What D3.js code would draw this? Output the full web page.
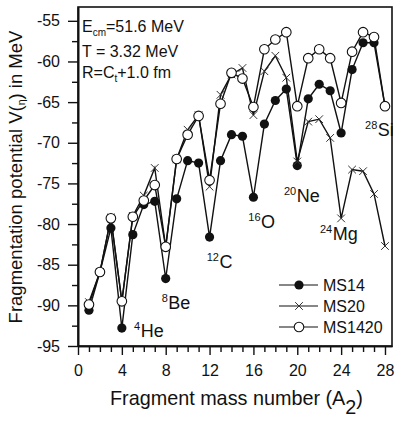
<!DOCTYPE html>
<html><head><meta charset="utf-8">
<script src="https://cdn.jsdelivr.net/npm/d3@7"></script>
<style>
html,body{margin:0;padding:0;background:#fff;}
text{font-family:"Liberation Sans",Arial,sans-serif;fill:#111;}
</style></head>
<body><svg id="c" width="395" height="423"></svg>
<script>
const massNumbers = [1,2,3,4,5,6,7,8,9,10,11,12,13,14,15,16,17,18,19,20,21,22,23,24,25,26,27,28];
const ms14   = [-90.6,-85.9,-80.5,-92.8,-81.3,-77.6,-77.2,-86.7,-76.9,-72.2,-72.5,-81.6,-72.2,-69.0,-69.2,-76.7,-67.7,-64.8,-63.4,-72.8,-64.6,-62.8,-63.6,-68.8,-61.0,-57.7,-57.7,-65.5];
const ms20   = [-89.6,-85.9,-79.2,-89.5,-79.0,-76.5,-73.1,-82.8,-72.0,-68.4,-66.6,-75.4,-64.1,-61.6,-60.8,-66.6,-61.2,-59.3,-62.0,-72.3,-67.4,-67.1,-69.4,-79.3,-73.3,-73.5,-76.3,-82.7];
const ms1420 = [-89.9,-85.9,-79.3,-89.5,-79.1,-77.1,-75.2,-82.8,-72.0,-69.0,-66.7,-74.6,-65.2,-61.4,-62.1,-65.6,-58.5,-57.3,-56.4,-65.5,-59.6,-58.5,-59.6,-65.1,-58.8,-56.4,-57.0,-65.5];
const xMajorTicks = [0,4,8,12,16,20,24,28];
const yMajorTicks = [-95,-90,-85,-80,-75,-70,-65,-60,-55];
const seriesNames = ["MS14","MS20","MS1420"];
const nuclideMass = ["4","8","12","16","20","24","28"];
const nuclideSym  = ["He","Be","C","O","Ne","Mg","Si"];
// label anchor positions in data coordinates [A, V]
const nuclidePos = [[5.11,-93.95],[7.63,-90.5],[11.74,-85.4],[15.53,-80.5],[18.79,-77.3],[22.07,-81.9],[26.18,-69.2]];

const svg = d3.select("#c");
const x = d3.scaleLinear().domain([0,28.64]).range([78,392]);
const y = d3.scaleLinear().domain([-95,-53.3]).range([346,7]);

// frame
svg.append("rect").attr("x",x(0)).attr("y",y(-53.3)).attr("width",x(28.64)-x(0)).attr("height",y(-95)-y(-53.3))
  .attr("fill","none").attr("stroke","#111").attr("stroke-width",1.6);

// axes
const minorX = d3.range(0,29,1).filter(d=>d%4!==0);
const gx = svg.append("g").attr("transform",`translate(0,${y(-95)})`);
gx.call(d3.axisBottom(x).tickValues(xMajorTicks).tickSize(9).tickSizeOuter(0).tickPadding(10).tickFormat(d=>String(d)));
const gx2 = svg.append("g").attr("transform",`translate(0,${y(-95)})`);
gx2.call(d3.axisBottom(x).tickValues(minorX).tickSize(6).tickSizeOuter(0).tickFormat(""));
const minorY = d3.range(-92.5,-54,5);
const gy = svg.append("g").attr("transform",`translate(${x(0)},0)`);
gy.call(d3.axisLeft(y).tickValues(yMajorTicks).tickSize(10).tickSizeOuter(0).tickPadding(8).tickFormat(d=>String(d)));
const gy2 = svg.append("g").attr("transform",`translate(${x(0)},0)`);
gy2.call(d3.axisLeft(y).tickValues(minorY).tickSize(6).tickSizeOuter(0).tickFormat(""));
svg.selectAll(".domain").attr("stroke","#111").attr("stroke-width",1.6);
svg.selectAll(".tick line").attr("stroke","#111").attr("stroke-width",1.4);
svg.selectAll(".tick text").attr("font-size",16).attr("font-family","'Liberation Sans',Arial,sans-serif").attr("fill","#111");

// axis titles
const xt = svg.append("text").attr("x",110).attr("y",405).attr("font-size",19.8);
xt.append("tspan").text("Fragment mass number (A");
xt.append("tspan").attr("dy",9).text("2");
xt.append("tspan").attr("dy",-9).text(")");

const yt = svg.append("text").attr("transform","translate(22,177) rotate(-90)").attr("text-anchor","middle").attr("font-size",18.5);
yt.append("tspan").text("Fragmentation potential V(");
yt.append("tspan").attr("font-size",10.5).attr("dy",3).text("η");
yt.append("tspan").attr("dy",-3).text(") in MeV");

// lines
const line = d3.line().x((d,i)=>x(massNumbers[i])).y(d=>y(d));
const drawSeries = (vals)=> svg.append("path").attr("d",line(vals)).attr("fill","none").attr("stroke","#111").attr("stroke-width",1.4);
drawSeries(ms14);
drawSeries(ms20);
drawSeries(ms1420);

// markers
svg.append("g").selectAll("circle").data(ms14).join("circle")
  .attr("cx",(d,i)=>x(massNumbers[i])).attr("cy",d=>y(d)).attr("r",4.6).attr("fill","#111");
const xSym = d3.symbol().type(d3.symbolX).size(40);
svg.append("g").selectAll("path").data(ms20).join("path")
  .attr("transform",(d,i)=>`translate(${x(massNumbers[i])},${y(d)})`).attr("d",xSym)
  .attr("fill","none").attr("stroke","#333").attr("stroke-width",1);
svg.append("g").selectAll("circle").data(ms1420).join("circle")
  .attr("cx",(d,i)=>x(massNumbers[i])).attr("cy",d=>y(d)).attr("r",4.8).attr("fill","#fff").attr("stroke","#111").attr("stroke-width",1.1);

// nuclide labels
nuclideSym.forEach((s,i)=>{
  const t = svg.append("text").attr("x",x(nuclidePos[i][0])).attr("y",y(nuclidePos[i][1])).attr("font-size",18);
  t.append("tspan").attr("font-size",11).attr("dy",-7).text(nuclideMass[i]);
  t.append("tspan").attr("dy",7).attr("dx",0.5).text(s);
});

// annotation
const a1 = svg.append("text").attr("x",82).attr("y",32).attr("font-size",16);
a1.append("tspan").text("E");
a1.append("tspan").attr("font-size",10).attr("dy",4).text("cm");
a1.append("tspan").attr("dy",-4).text("=51.6 MeV");
svg.append("text").attr("x",82).attr("y",57).attr("font-size",16).text("T = 3.32 MeV");
const a3 = svg.append("text").attr("x",82).attr("y",78).attr("font-size",16);
a3.append("tspan").text("R=C");
a3.append("tspan").attr("font-size",10).attr("dy",4).text("t");
a3.append("tspan").attr("dy",-4).text("+1.0 fm");

// legend
const lg = svg.append("g");
seriesNames.forEach((nm,i)=>{
  const ly = 285 + i*21;
  lg.append("line").attr("x1",279).attr("x2",318).attr("y1",ly).attr("y2",ly).attr("stroke","#111").attr("stroke-width",1.1);
  if(i===0) lg.append("circle").attr("cx",299).attr("cy",ly).attr("r",4.6).attr("fill","#111");
  if(i===1) lg.append("path").attr("transform",`translate(299,${ly})`).attr("d",xSym).attr("fill","none").attr("stroke","#333").attr("stroke-width",1);
  if(i===2) lg.append("circle").attr("cx",299).attr("cy",ly).attr("r",4.8).attr("fill","#fff").attr("stroke","#111").attr("stroke-width",1.1);
  lg.append("text").attr("x",323).attr("y",ly+6).attr("font-size",16).text(nm);
});
</script></body></html>
